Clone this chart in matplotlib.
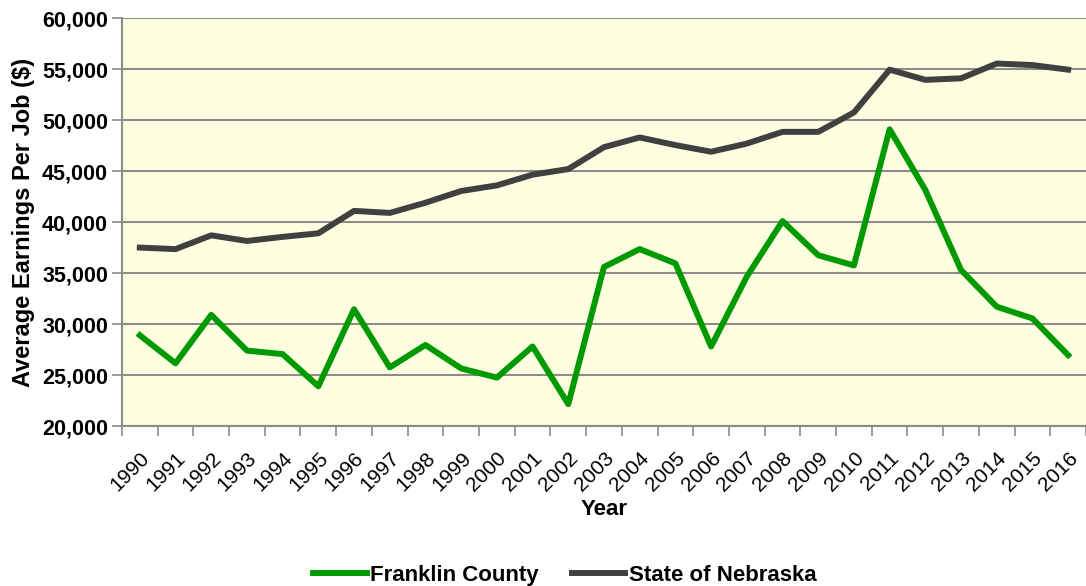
import numpy as np
import matplotlib
matplotlib.use('Agg')
import matplotlib.pyplot as plt
import matplotlib.transforms as mtransforms
from matplotlib.ticker import FuncFormatter, FixedLocator

years = [str(y) for y in range(1990, 2017)]
franklin = [28900, 26150, 30900, 27400, 27050, 23900, 31450, 25750, 27950, 25650,
            24750, 27800, 22150, 35600, 37350, 35950, 27800, 34650, 40100, 36750,
            35750, 49100, 43150, 35300, 31700, 30550, 26950]
nebraska = [37500, 37350, 38700, 38150, 38550, 38900, 41100, 40900, 41900, 43050,
            43600, 44650, 45200, 47350, 48300, 47550, 46900, 47700, 48850, 48850,
            50750, 54950, 53950, 54100, 55550, 55400, 54950]

plt.rcParams['font.family'] = ['Liberation Sans', 'DejaVu Sans']

fig = plt.figure(figsize=(10.86, 5.86), dpi=100)
ax = fig.add_axes([0.1123, 0.273, 0.8877, 0.696])
ax.set_facecolor('#FEFEE0')

x = np.arange(len(years))
ax.plot(x, franklin, color='#009900', lw=4.3, label='Franklin County')
ax.plot(x, nebraska, color='#404040', lw=4.3, label='State of Nebraska')

ax.set_ylim(20000, 60000)
ax.set_xlim(-0.5, len(years) - 0.5)
ax.set_yticks(np.arange(20000, 60001, 5000))
ax.yaxis.set_major_formatter(FuncFormatter(lambda v, p: f'{int(v):,}'))
ax.grid(axis='y', color='#8C8C8C', lw=1.5)
ax.set_axisbelow(True)

# ticks sit between the years, labels sit under each year
ax.xaxis.set_major_locator(FixedLocator(np.arange(-0.5, len(years), 1.0)))
ax.xaxis.set_minor_locator(FixedLocator(x))
ax.set_xticklabels([], minor=False)
ax.set_xticklabels(years, minor=True, rotation=45, ha='right', rotation_mode='anchor',
                   fontsize=15)
shift = mtransforms.ScaledTranslation(7 / 100, 0, fig.dpi_scale_trans)
for lab in ax.get_xticklabels(minor=True):
    lab.set_transform(lab.get_transform() + shift)
ax.tick_params(axis='x', which='major', length=7, color='#8C8C8C', width=1.2)
ax.tick_params(axis='x', which='minor', length=0, pad=16)
ax.tick_params(axis='y', length=7, color='#8C8C8C', width=1.2, labelsize=15.5, pad=3)
for lab in ax.get_yticklabels():
    lab.set_fontweight('bold')

for s in ['top', 'right']:
    ax.spines[s].set_visible(False)
for s in ['left', 'bottom']:
    ax.spines[s].set_color('#8C8C8C')
    ax.spines[s].set_linewidth(1.5)

ax.set_xlabel('Year', fontsize=16, fontweight='bold', labelpad=3)
ax.set_ylabel('Average Earnings Per Job ($)', fontsize=17, fontweight='bold', labelpad=5)

fig.legend(loc='center', bbox_to_anchor=(0.52, 0.018), ncol=2, frameon=False,
           prop={'size': 16, 'weight': 'bold'}, handlelength=2.4, columnspacing=1.5,
           handletextpad=0.15)

fig.savefig('out.png', dpi=100)
